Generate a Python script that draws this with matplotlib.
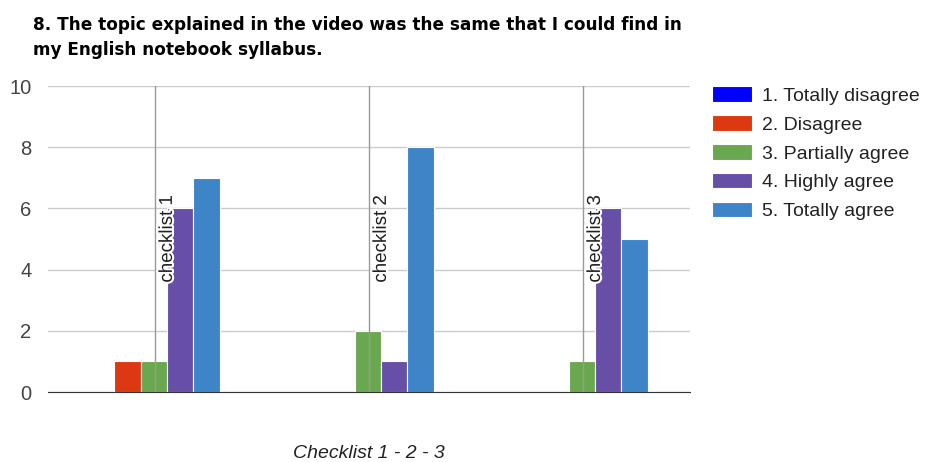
import matplotlib

matplotlib.use("Agg")
import matplotlib.patheffects as pe
import matplotlib.pyplot as plt
import numpy as np

plt.rcParams["font.family"] = ["Liberation Sans", "DejaVu Sans"]

title = "8. The topic explained in the video was the same that I could find in\nmy English notebook syllabus."
groups = ["checklist 1", "checklist 2", "checklist 3"]
series_names = [
    "1. Totally disagree",
    "2. Disagree",
    "3. Partially agree",
    "4. Highly agree",
    "5. Totally agree",
]
totally_disagree = [0, 0, 0]
disagree = [1, 0, 0]
partially_agree = [1, 2, 1]
highly_agree = [6, 1, 6]
totally_agree = [7, 8, 5]
colors = ["#0000ff", "#dc3912", "#6aa84f", "#674ea7", "#3d85c6"]

series = [totally_disagree, disagree, partially_agree, highly_agree, totally_agree]

fig = plt.figure(figsize=(9.31, 4.62), dpi=100)
ax = fig.add_axes([48 / 931, 70 / 462, 642 / 931, 306 / 462])

x = np.arange(len(groups))
width = 0.123
handles = []
for k, (name, vals, col) in enumerate(zip(series_names, series, colors)):
    bars = ax.bar(x + (k - 2) * width - 0.006, vals, width, color=col, edgecolor="white",
                  linewidth=0.8, label=name, zorder=2)
    handles.append(bars)

ax.set_xlim(-0.5, len(groups) - 0.5)
ax.set_ylim(0, 10)
ax.set_yticks(range(0, 11, 2))
ax.set_xticks([])
ax.yaxis.grid(True, color="#cccccc", linewidth=1, zorder=0)
ax.set_axisbelow(True)
for xi in x:
    ax.axvline(xi, color="#999999", linewidth=1, zorder=3)

for s in ["top", "right", "left"]:
    ax.spines[s].set_visible(False)
ax.spines["bottom"].set_color("#333333")
ax.spines["bottom"].set_zorder(4)
ax.tick_params(axis="y", length=0, pad=12, labelsize=14.5, labelcolor="#444444")

for xi, g in zip(x, groups):
    ax.text(xi + 0.058, 5, g, rotation=90, ha="center", va="center", fontsize=13.5,
            color="#222222", zorder=5,
            path_effects=[pe.withStroke(linewidth=3, foreground="white")])

ax.set_xlabel("Checklist 1 - 2 - 3", fontsize=14, style="italic", color="#222222")
ax.xaxis.set_label_coords(0.5, -62 / 306)
ax.xaxis.label.set_va("center")

fig.text(33 / 931, 1 - 16 / 462, title, ha="left", va="top", fontsize=12.2,
         fontweight="bold", family="DejaVu Sans", color="#000000", linespacing=1.5)

fig.legend(handles=handles, loc="upper left", bbox_to_anchor=(694 / 931, 1 - 69 / 462),
           frameon=False, fontsize=14, handlelength=2.1, handleheight=0.85,
           handletextpad=0.5, labelspacing=0.53, labelcolor="#222222")

fig.savefig("out.png", dpi=100)
